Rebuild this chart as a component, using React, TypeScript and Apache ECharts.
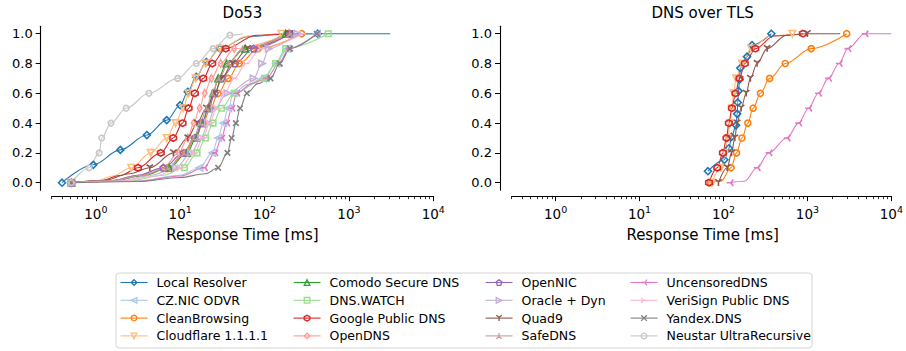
import React, { useEffect, useRef } from 'react';
import * as echarts from 'echarts';

const FONT = 'DejaVu Sans';

// ---- labels ----
const panelTitles = ['Do53', 'DNS over TLS'];
const xAxisTitle = 'Response Time [ms]';
const xMajorExponents = [0, 1, 2, 3, 4];
const yTicks = [0, 0.2, 0.4, 0.6, 0.8, 1.0];

const names = [
  'Local Resolver', 'CZ.NIC ODVR', 'CleanBrowsing', 'Cloudflare 1.1.1.1',
  'Comodo Secure DNS', 'DNS.WATCH', 'Google Public DNS', 'OpenDNS',
  'OpenNIC', 'Oracle + Dyn', 'Quad9', 'SafeDNS',
  'UncensoredDNS', 'VeriSign Public DNS', 'Yandex.DNS', 'Neustar UltraRecursive',
];

// ---- data: [log10(ms), CDF]; "Marks" carry a marker, "Line" points only shape the curve ----
// Do53
const localMarksDo53 = [[-0.40, 0], [-0.03, 0.12], [0.29, 0.22], [0.605, 0.32], [0.84, 0.42], [1.0, 0.52], [1.09, 0.61], [1.19, 0.71], [1.31, 0.81], [1.47, 0.9], [2.63, 1.0]];
const localLineDo53 = [[1.8, 0.98], [2.2, 0.997], [3.49, 1.0]];
const czMarksDo53 = [[-0.29, 0], [1.23, 0.1], [1.38, 0.2], [1.45, 0.3], [1.51, 0.4], [1.57, 0.5], [1.63, 0.6], [1.98, 0.7], [2.14, 0.8], [2.27, 0.9], [2.62, 1.0]];
const czLineDo53 = [[0.5, 0.012], [1.0, 0.05], [1.8, 0.66]];
const cleanMarksDo53 = [[-0.29, 0], [0.85, 0.1], [1.06, 0.2], [1.18, 0.3], [1.27, 0.4], [1.36, 0.5], [1.45, 0.6], [1.57, 0.7], [1.70, 0.8], [1.925, 0.9], [2.44, 1.0]];
const cleanLineDo53 = [[0.2, 0.015], [0.55, 0.05]];
const cloudMarksDo53 = [[-0.29, 0], [0.42, 0.1], [0.65, 0.2], [0.84, 0.3], [0.945, 0.4], [1.036, 0.5], [1.10, 0.6], [1.183, 0.7], [1.30, 0.8], [1.47, 0.9], [2.2, 1.0]];
const cloudLineDo53 = [[0.0, 0.012], [0.2, 0.045], [1.8, 0.985]];
const comodoMarksDo53 = [[-0.29, 0], [0.87, 0.1], [1.08, 0.2], [1.19, 0.3], [1.26, 0.4], [1.33, 0.5], [1.39, 0.6], [1.45, 0.7], [1.55, 0.8], [1.77, 0.9], [2.25, 1.0]];
const comodoLineDo53 = [[0.2, 0.012], [0.55, 0.045]];
const watchMarksDo53 = [[-0.29, 0], [1.05, 0.1], [1.20, 0.2], [1.30, 0.3], [1.39, 0.4], [1.49, 0.5], [1.64, 0.6], [2.0, 0.7], [2.13, 0.8], [2.25, 0.9], [2.755, 1.0]];
const watchLineDo53 = [[0.4, 0.012], [0.8, 0.05]];
const googleMarksDo53 = [[-0.29, 0], [0.50, 0.1], [0.77, 0.2], [0.917, 0.3], [1.028, 0.4], [1.10, 0.5], [1.174, 0.6], [1.273, 0.7], [1.38, 0.8], [1.54, 0.9], [2.29, 1.0]];
const googleLineDo53 = [[0.05, 0.012], [0.3, 0.05], [1.9, 0.99]];
const opendnsMarksDo53 = [[-0.29, 0], [0.80, 0.1], [0.98, 0.2], [1.09, 0.3], [1.16, 0.4], [1.23, 0.5], [1.29, 0.6], [1.37, 0.7], [1.48, 0.8], [1.64, 0.9], [2.29, 1.0]];
const opendnsLineDo53 = [[0.2, 0.015], [0.5, 0.05]];
const opennicMarksDo53 = [[-0.29, 0], [0.80, 0.1], [1.04, 0.2], [1.17, 0.3], [1.26, 0.4], [1.34, 0.5], [1.41, 0.6], [1.49, 0.7], [1.65, 0.8], [1.87, 0.9], [2.3, 1.0]];
const opennicLineDo53 = [[0.2, 0.015], [0.5, 0.05]];
const oracleMarksDo53 = [[-0.29, 0], [0.95, 0.1], [1.13, 0.2], [1.25, 0.3], [1.33, 0.4], [1.41, 0.5], [1.56, 0.6], [1.87, 0.7], [1.97, 0.8], [2.05, 0.9], [2.39, 1.0]];
const oracleLineDo53 = [[0.3, 0.012], [0.65, 0.05]];
const quad9MarksDo53 = [[-0.29, 0], [0.64, 0.1], [0.92, 0.2], [1.09, 0.3], [1.20, 0.4], [1.31, 0.5], [1.41, 0.6], [1.49, 0.7], [1.62, 0.8], [1.80, 0.9], [2.3, 1.0]];
const quad9LineDo53 = [[0.1, 0.015], [0.4, 0.06]];
const safeMarksDo53 = [[-0.29, 0], [0.85, 0.1], [1.05, 0.2], [1.16, 0.3], [1.24, 0.4], [1.31, 0.5], [1.38, 0.6], [1.46, 0.7], [1.57, 0.8], [1.74, 0.9], [2.3, 1.0]];
const safeLineDo53 = [[0.2, 0.015], [0.55, 0.05]];
const uncensoredMarksDo53 = [[-0.29, 0], [1.285, 0.1], [1.41, 0.2], [1.49, 0.3], [1.55, 0.4], [1.61, 0.5], [1.67, 0.6], [2.02, 0.7], [2.17, 0.8], [2.29, 0.9], [2.62, 1.0]];
const uncensoredLineDo53 = [[0.5, 0.01], [1.0, 0.045], [1.85, 0.665]];
const verisignMarksDo53 = [[-0.29, 0], [1.0, 0.1], [1.17, 0.2], [1.27, 0.3], [1.35, 0.4], [1.43, 0.5], [1.52, 0.6], [1.64, 0.7], [1.78, 0.8], [1.96, 0.9], [2.45, 1.0]];
const verisignLineDo53 = [[0.3, 0.01], [0.7, 0.045]];
const yandexMarksDo53 = [[-0.29, 0], [1.45, 0.1], [1.56, 0.2], [1.61, 0.3], [1.66, 0.4], [1.71, 0.5], [1.79, 0.6], [2.07, 0.7], [2.18, 0.8], [2.30, 0.9], [2.62, 1.0]];
const yandexLineDo53 = [[0.5, 0.008], [1.0, 0.035], [1.3, 0.06], [1.92, 0.665]];
const neustarMarksDo53 = [[-0.29, 0], [-0.08, 0.1], [0.04, 0.2], [0.07, 0.3], [0.18, 0.4], [0.36, 0.5], [0.63, 0.6], [0.97, 0.7], [1.19, 0.8], [1.39, 0.9], [1.59, 0.99]];
const neustarLineDo53 = [[1.74, 1.0]];

// DNS over TLS
const localMarksDoT = [[1.815, 0.077], [2.01, 0.154], [2.064, 0.231], [2.096, 0.308], [2.15, 0.385], [2.163, 0.462], [2.17, 0.538], [2.18, 0.615], [2.19, 0.692], [2.2, 0.769], [2.28, 0.846], [2.34, 0.923], [2.57, 1.0]];
const localLineDoT: number[][] = [];
const cleanMarksDoT = [[1.847, 0], [2.09, 0.1], [2.155, 0.2], [2.22, 0.3], [2.29, 0.4], [2.353, 0.5], [2.44, 0.6], [2.55, 0.7], [2.736, 0.8], [3.045, 0.9], [3.468, 1.0]];
const cleanLineDoT = [[1.97, 0.01]];
const cloudMarksDoT = [[1.86, 0], [1.97, 0.1], [2.02, 0.2], [2.05, 0.3], [2.08, 0.4], [2.10, 0.5], [2.12, 0.6], [2.15, 0.7], [2.22, 0.8], [2.33, 0.9], [2.82, 1.0]];
const cloudLineDoT = [[2.55, 0.985]];
const googleMarksDoT = [[1.827, 0], [1.926, 0.1], [1.993, 0.2], [2.036, 0.3], [2.064, 0.4], [2.10, 0.5], [2.143, 0.6], [2.19, 0.7], [2.254, 0.8], [2.38, 0.9], [2.946, 1.0]];
const googleLineDoT = [[2.6, 0.985]];
const quad9MarksDoT = [[1.94, 0], [2.044, 0.1], [2.096, 0.2], [2.135, 0.3], [2.163, 0.4], [2.21, 0.5], [2.27, 0.6], [2.32, 0.7], [2.40, 0.8], [2.52, 0.9], [3.0, 1.0]];
const quad9LineDoT = [[2.75, 0.99], [3.39, 1.0]];
const uncensoredMarksDoT = [[2.076, 0], [2.40, 0.1], [2.54, 0.2], [2.756, 0.3], [2.895, 0.4], [3.013, 0.5], [3.13, 0.6], [3.25, 0.7], [3.377, 0.8], [3.48, 0.9], [3.685, 1.0]];
const uncensoredLineDoT = [[2.25, 0.01], [4.0, 1.0]];

const do53Data: Record<string, number[][][]> = {
  'Local Resolver': [localMarksDo53, localLineDo53],
  'CZ.NIC ODVR': [czMarksDo53, czLineDo53],
  'CleanBrowsing': [cleanMarksDo53, cleanLineDo53],
  'Cloudflare 1.1.1.1': [cloudMarksDo53, cloudLineDo53],
  'Comodo Secure DNS': [comodoMarksDo53, comodoLineDo53],
  'DNS.WATCH': [watchMarksDo53, watchLineDo53],
  'Google Public DNS': [googleMarksDo53, googleLineDo53],
  'OpenDNS': [opendnsMarksDo53, opendnsLineDo53],
  'OpenNIC': [opennicMarksDo53, opennicLineDo53],
  'Oracle + Dyn': [oracleMarksDo53, oracleLineDo53],
  'Quad9': [quad9MarksDo53, quad9LineDo53],
  'SafeDNS': [safeMarksDo53, safeLineDo53],
  'UncensoredDNS': [uncensoredMarksDo53, uncensoredLineDo53],
  'VeriSign Public DNS': [verisignMarksDo53, verisignLineDo53],
  'Yandex.DNS': [yandexMarksDo53, yandexLineDo53],
  'Neustar UltraRecursive': [neustarMarksDo53, neustarLineDo53],
};
const dotData: Record<string, number[][][]> = {
  'Local Resolver': [localMarksDoT, localLineDoT],
  'CleanBrowsing': [cleanMarksDoT, cleanLineDoT],
  'Cloudflare 1.1.1.1': [cloudMarksDoT, cloudLineDoT],
  'Google Public DNS': [googleMarksDoT, googleLineDoT],
  'Quad9': [quad9MarksDoT, quad9LineDoT],
  'UncensoredDNS': [uncensoredMarksDoT, uncensoredLineDoT],
};

// ---- styles ----
const HEX = 'path://M0,-1L0.866,-0.5L0.866,0.5L0,1L-0.866,0.5L-0.866,-0.5Z';
const PENT = 'path://M0,-1L0.951,-0.309L0.588,0.809L-0.588,0.809L-0.951,-0.309Z';
const THIN_D = 'path://M0,-1L0.6,0L0,1L-0.6,0Z';
const TRI1 = 'path://M0,0L0,1M0,0L-0.866,-0.5M0,0L0.866,-0.5';
const TRI2 = 'path://M0,0L0,-1M0,0L-0.866,0.5M0,0L0.866,0.5';
const TRI3 = 'path://M0,0L-1,0M0,0L0.5,-0.866M0,0L0.5,0.866';
const TRI4 = 'path://M0,0L1,0M0,0L-0.5,-0.866M0,0L-0.5,0.866';
const XMARK = 'path://M-1,-1L1,1M-1,1L1,-1';

const styles: Record<string, { color: string; symbol: string; size: number | number[]; rotate?: number }> = {
  'Local Resolver': { color: '#1f77b4', symbol: 'diamond', size: 7 },
  'CZ.NIC ODVR': { color: '#aec7e8', symbol: 'triangle', size: 6.5, rotate: 90 },
  'CleanBrowsing': { color: '#ff7f0e', symbol: 'circle', size: 6 },
  'Cloudflare 1.1.1.1': { color: '#ffbb78', symbol: 'triangle', size: 6.5, rotate: 180 },
  'Comodo Secure DNS': { color: '#2ca02c', symbol: 'triangle', size: 6.5 },
  'DNS.WATCH': { color: '#98df8a', symbol: 'rect', size: 5.5 },
  'Google Public DNS': { color: '#d62728', symbol: HEX, size: 6.5 },
  'OpenDNS': { color: '#ff9896', symbol: THIN_D, size: [4.5, 7.5] },
  'OpenNIC': { color: '#9467bd', symbol: PENT, size: 6.5 },
  'Oracle + Dyn': { color: '#c5b0d5', symbol: 'triangle', size: 6.5, rotate: -90 },
  'Quad9': { color: '#8c564b', symbol: TRI1, size: 6.5 },
  'SafeDNS': { color: '#c49c94', symbol: TRI2, size: 6.5 },
  'UncensoredDNS': { color: '#e377c2', symbol: TRI3, size: 6.5 },
  'VeriSign Public DNS': { color: '#f7b6d2', symbol: TRI4, size: 6.5 },
  'Yandex.DNS': { color: '#7f7f7f', symbol: XMARK, size: 5.5 },
  'Neustar UltraRecursive': { color: '#c7c7c7', symbol: 'circle', size: 5.5 },
};

const xMin = Math.log10(0.3);
const xMax = 4;
const minorTicks: number[] = [];
for (let d = -1; d <= 3; d++) {
  for (let k = 2; k <= 9; k++) {
    const v = Math.log10(k * Math.pow(10, d));
    if (v >= xMin - 1e-9 && v <= xMax) minorTicks.push(v);
  }
}

const gridsPx = [
  { left: 51.7, top: 26.25, width: 381.6, height: 163.9 },
  { left: 511.7, top: 26.25, width: 381.8, height: 163.9 },
];

function buildData(marks: number[][], line: number[][]) {
  const pts: any[] = [
    ...marks.map((p) => ({ value: p })),
    ...line.map((p) => ({ value: p, symbol: 'none' })),
  ];
  pts.sort((a, b) => a.value[0] - b.value[0] || a.value[1] - b.value[1]);
  return pts;
}

function makeSeries(name: string, marks: number[][], line: number[][], xi: number, yi: number) {
  const s = styles[name];
  return {
    type: 'line',
    name,
    xAxisIndex: xi,
    yAxisIndex: yi,
    data: buildData(marks, line),
    smooth: 0.35,
    smoothMonotone: 'x',
    symbol: s.symbol,
    symbolSize: s.size,
    symbolRotate: s.rotate || 0,
    symbolKeepAspect: false,
    showAllSymbol: true,
    lineStyle: { color: s.color, width: 1.1 },
    itemStyle: { color: 'transparent', borderColor: s.color, borderWidth: 1.6 },
    emphasis: { disabled: true },
    silent: true,
    z: 2,
  };
}

function xAxesFor(gridIndex: number) {
  return [
    {
      type: 'value', gridIndex, min: xMin, max: xMax, position: 'bottom', offset: 6,
      axisLine: { show: true, onZero: false, lineStyle: { color: '#000', width: 1.1 } },
      axisTick: { show: true, customValues: xMajorExponents, length: 5, lineStyle: { color: '#000', width: 1 } },
      axisLabel: {
        show: true, customValues: xMajorExponents, margin: 8,
        formatter: (v: number) => `{b|10}{s|${Math.round(v)}}`,
        rich: {
          b: { fontSize: 13.5, fontFamily: FONT, color: '#000', lineHeight: 20 },
          s: { fontSize: 9.5, fontFamily: FONT, color: '#000', lineHeight: 10, verticalAlign: 'top' },
        },
      },
      splitLine: { show: false },
    },
    {
      type: 'value', gridIndex, min: xMin, max: xMax, position: 'bottom', offset: 6,
      axisLine: { show: false, onZero: false },
      axisTick: { show: true, customValues: minorTicks, length: 3, lineStyle: { color: '#000', width: 0.8 } },
      axisLabel: { show: false },
      splitLine: { show: false },
    },
  ];
}

function yAxisFor(gridIndex: number, offset: number) {
  return {
    type: 'value', gridIndex, min: -0.05, max: 1.05, position: 'left', offset,
    axisLine: { show: true, onZero: false, lineStyle: { color: '#000', width: 1.1 } },
    axisTick: { show: true, customValues: yTicks, length: 5, lineStyle: { color: '#000', width: 1 } },
    axisLabel: {
      show: true, customValues: yTicks, margin: 8,
      formatter: (v: number) => v.toFixed(1),
      fontSize: 13, fontFamily: FONT, color: '#000',
    },
    splitLine: { show: false },
  };
}

const legendCols = [names.slice(0, 4), names.slice(4, 8), names.slice(8, 12), names.slice(12, 16)];
const legendLefts = [120, 293, 485, 630];

export default function App() {
  const ref = useRef<HTMLDivElement>(null);
  useEffect(() => {
    const chart = echarts.init(ref.current!, null, { renderer: 'svg' });
    const series: any[] = [];
    names.forEach((n) => {
      const d = do53Data[n];
      if (d) series.push(makeSeries(n, d[0], d[1], 0, 0));
    });
    names.forEach((n) => {
      const d = dotData[n];
      if (d) series.push(makeSeries(n, d[0], d[1], 2, 1));
    });
    const option: any = {
      animation: false,
      backgroundColor: '#fff',
      textStyle: { fontFamily: FONT },
      grid: gridsPx.map((g) => ({ ...g, containLabel: false })),
      xAxis: [...xAxesFor(0), ...xAxesFor(1)],
      yAxis: [yAxisFor(0, 11), yAxisFor(1, 11.7)],
      legend: legendCols.map((col, i) => ({
        orient: 'vertical', left: legendLefts[i], top: 275, padding: 0,
        data: col, itemWidth: 27, itemHeight: 7, itemGap: 2.8, selectedMode: false,
        itemStyle: { color: 'transparent', borderWidth: 1.3 },
        lineStyle: { width: 1.1 },
        textStyle: { fontSize: 12.5, fontFamily: FONT, color: '#000', lineHeight: 15, padding: [0, 0, 0, 4] },
      })),
      graphic: [
        { type: 'rect', shape: { x: 116, y: 273, width: 696, height: 75, r: 3 }, style: { fill: 'none', stroke: '#d4d4d4', lineWidth: 1 }, z: -1, silent: true },
        ...panelTitles.map((t, i) => ({
          type: 'text', x: gridsPx[i].left + gridsPx[i].width / 2, y: 13.3,
          style: { text: t, fontSize: 15, fontFamily: FONT, fill: '#000', textAlign: 'center', textVerticalAlign: 'middle' },
        })),
        ...gridsPx.map((g) => ({
          type: 'text', x: g.left + g.width / 2, y: 235,
          style: { text: xAxisTitle, fontSize: 15, fontFamily: FONT, fill: '#000', textAlign: 'center', textVerticalAlign: 'middle' },
        })),
      ],
      series,
    };
    chart.setOption(option);
    return () => chart.dispose();
  }, []);
  return <div ref={ref} style={{ position: 'fixed', left: 0, top: 0, width: 906, height: 351 }} />;
}
